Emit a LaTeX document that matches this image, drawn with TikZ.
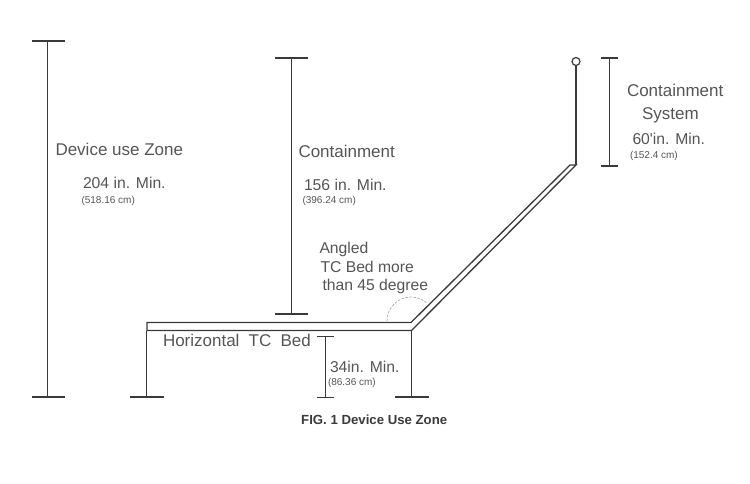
\documentclass[tikz,border=0pt]{standalone}
\usepackage{fontspec}
\setmainfont{Liberation Sans}
\definecolor{ink}{HTML}{3A3A3A}
\definecolor{txt}{HTML}{555555}
\newcommand{\bigsz}{\fontsize{17}{20}\selectfont}
\newcommand{\midsz}{\fontsize{15.7}{18}\selectfont}
\tikzset{
  dimline/.style={draw=ink,line width=1.3pt},
  bedline/.style={draw=ink,line width=1.3pt,line join=miter},
  lab/.style={anchor=base west,inner sep=0pt,outer sep=0pt,text=txt,font=\bigsz},
  midlab/.style={anchor=base west,inner sep=0pt,outer sep=0pt,text=txt,font=\midsz},
  small/.style={anchor=base west,inner sep=0pt,outer sep=0pt,text=txt,font=\fontsize{10}{11}\selectfont},
}
\begin{document}
\begin{tikzpicture}[x=1pt,y=-1pt]
\useasboundingbox (0,0) rectangle (750,483);
% device use zone dimension
\coordinate (a1) at (47.5,41); \coordinate (a2) at (47.5,397);
\coordinate (a1l) at (31.5,41); \coordinate (a1r) at (64.5,41);
\coordinate (a2l) at (31.5,397); \coordinate (a2r) at (64.5,397);
\draw[dimline] (a1)--(a2) (a1l)--(a1r) (a2l)--(a2r);
% containment dimension
\coordinate (b1) at (291.5,58); \coordinate (b2) at (291.5,314);
\coordinate (b1l) at (275,58); \coordinate (b1r) at (308,58);
\coordinate (b2l) at (275,314); \coordinate (b2r) at (308,314);
\draw[dimline] (b1)--(b2) (b1l)--(b1r) (b2l)--(b2r);
% containment system dimension
\coordinate (c1) at (609.5,58); \coordinate (c2) at (609.5,166);
\coordinate (c1l) at (601,58); \coordinate (c1r) at (618,58);
\coordinate (c2l) at (601,166); \coordinate (c2r) at (618,166);
\draw[dimline] (c1)--(c2) (c1l)--(c1r) (c2l)--(c2r);
% 34 in dimension
\coordinate (d1) at (325.5,336.5); \coordinate (d2) at (325.5,397.5);
\coordinate (d1l) at (317,336.5); \coordinate (d1r) at (334,336.5);
\coordinate (d2l) at (317,397.5); \coordinate (d2r) at (334,397.5);
\draw[dimline] (d1)--(d2) (d1l)--(d1r) (d2l)--(d2r);
% bed
\coordinate (t0) at (147,322.5); \coordinate (t1) at (411,322.5); \coordinate (t2) at (570,165);
\coordinate (u0) at (147,330.5); \coordinate (u1) at (411.5,330.5); \coordinate (u2) at (576,165);
\draw[bedline] (u0)--(t0)--(t1)--(t2)--(u2)--(u1)--cycle;
% legs
\coordinate (l1) at (146.5,330.5); \coordinate (l2) at (146.5,397);
\coordinate (l2l) at (130,397); \coordinate (l2r) at (163.5,397);
\coordinate (r1) at (411.5,330.5); \coordinate (r2) at (411.5,397);
\coordinate (r2l) at (395,397); \coordinate (r2r) at (428.5,397);
\draw[dimline] (l1)--(l2) (l2l)--(l2r) (r1)--(r2) (r2l)--(r2r);
% top post
\node[circle,draw=ink,line width=1.2pt,fill=white,minimum size=8pt,inner sep=0pt] (ring) at (576,61.5) {};
\draw[dimline] (ring.south)--(u2);
% angle arc
\draw[draw=gray!70,line width=.7pt,dash pattern=on 2.5pt off 1.5pt] (387,321) arc[start angle=180,end angle=313,radius=24];
% labels
\node[lab] (n1) at (55.5,155) {Device use Zone};
\node[midlab] (n2) at (83,188) {204 in. Min.};
\node[small] (n3) at (81.5,203) {(518.16 cm)};
\node[lab] (n4) at (298.5,157) {Containment};
\node[midlab] (n5) at (304,190) {156 in. Min.};
\node[small] (n6) at (302.5,203) {(396.24 cm)};
\node[midlab] (n7) at (319.5,253) {Angled};
\node[midlab] (n8) at (320.5,272) {TC Bed more};
\node[midlab] (n9) at (322.5,290) {than 45 degree};
\node[lab] (n10) at (163,346) {Horizontal\hspace{4.5pt} TC\hspace{4.5pt} Bed};
\node[midlab] (n11) at (330,372) {34in. Min.};
\node[small] (n12) at (328,385) {(86.36 cm)};
\node[lab] (n13) at (627,96) {Containment};
\node[lab] (n14) at (642,119) {System};
\node[midlab] (n15) at (632.5,144) {60\textquotesingle in. Min.};
\node[small] (n16) at (630,158) {(152.4 cm)};
\node[anchor=base west,inner sep=0pt,text=ink,font=\bfseries\fontsize{13.2}{15}\selectfont] (n17) at (301,424) {FIG. 1 Device Use Zone};
\end{tikzpicture}
\end{document}
